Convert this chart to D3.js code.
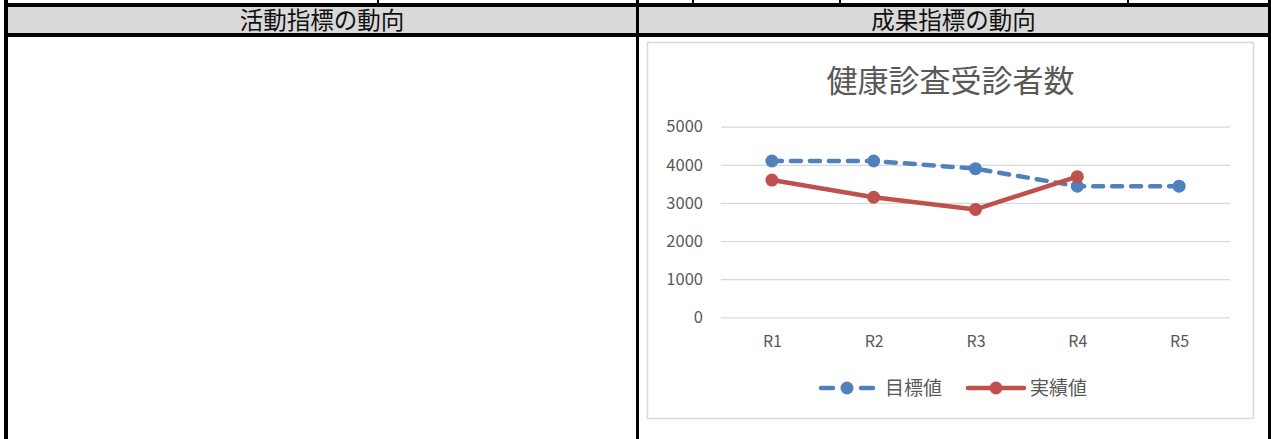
<!DOCTYPE html>
<html>
<head>
<meta charset="utf-8">
<title>健康診査受診者数</title>
<script src="https://d3js.org/d3.v7.min.js"></script>
<style>
  body { margin: 0; background: #fff; }
</style>
</head>
<body>
<svg width="1271" height="439" font-family="'Noto Sans CJK JP', 'Noto Sans', sans-serif"></svg>
<script>
var categories = ["R1", "R2", "R3", "R4", "R5"];
var targetValues = [4100, 4100, 3900, 3440, 3440];
var actualValues = [3600, 3150, 2830, 3690, null];
var yTicks = [0, 1000, 2000, 3000, 4000, 5000];
var seriesNames = ["目標値", "実績値"];
var seriesColors = ["#4f81bd", "#c0504d"];
var headers = ["活動指標の動向", "成果指標の動向"];
var chartTitle = "健康診査受診者数";
// column borders of the row above, only their feet show
var upperCols = [378, 693, 840, 1128];

var svg = d3.select("svg"),
    width = +svg.attr("width"),
    height = +svg.attr("height");

// ---- table frame ----
var colL = 8, colM = 636, colR = 1268;
svg.append("rect").attr("x", colL).attr("y", 7).attr("width", colR - colL).attr("height", 26).attr("fill", "#d9d9d9");
svg.append("rect").attr("x", 4).attr("y", 3).attr("width", width - 4).attr("height", 4).attr("fill", "#000");
svg.append("rect").attr("x", 4).attr("y", 33).attr("width", width - 4).attr("height", 4).attr("fill", "#000");
svg.append("rect").attr("x", 4).attr("y", 0).attr("width", 4).attr("height", height).attr("fill", "#000");
svg.append("rect").attr("x", colM).attr("y", 0).attr("width", 3).attr("height", height).attr("fill", "#000");
svg.append("rect").attr("x", colR).attr("y", 0).attr("width", 3).attr("height", height).attr("fill", "#000");
svg.selectAll(".ucol").data(upperCols).enter().append("rect")
    .attr("x", function(d) { return d - 1; }).attr("y", 0)
    .attr("width", 2).attr("height", 3).attr("fill", "#000");

svg.selectAll(".hdr").data(headers).enter().append("text")
    .attr("x", function(d, i) { return i === 0 ? (colL + colM) / 2 : (colM + 3 + colR) / 2; })
    .attr("y", 28.5)
    .attr("text-anchor", "middle")
    .attr("font-size", 23.5)
    .attr("fill", "#111")
    .text(function(d) { return d; });

// ---- chart ----
var frame = { x: 647.5, y: 42.5, w: 606, h: 376 };
svg.append("rect")
    .attr("x", frame.x).attr("y", frame.y)
    .attr("width", frame.w).attr("height", frame.h)
    .attr("fill", "#fff").attr("stroke", "#d9d9d9").attr("stroke-width", 1.5);

svg.append("text")
    .attr("x", frame.x + frame.w / 2)
    .attr("y", 92)
    .attr("text-anchor", "middle")
    .attr("font-size", 31)
    .attr("fill", "#595959")
    .text(chartTitle);

var plot = { left: 721, right: 1230, top: 126.7, bottom: 317.3 };

var x = d3.scalePoint().domain(categories).range([plot.left, plot.right]).padding(0.5);
var y = d3.scaleLinear().domain([0, 5000]).range([plot.bottom, plot.top]);

var g = svg.append("g");

g.append("g")
    .attr("transform", "translate(" + plot.left + ",0)")
    .call(d3.axisLeft(y).tickValues(yTicks).tickFormat(d3.format("d"))
        .tickSize(-(plot.right - plot.left)).tickPadding(18))
    .call(function(a) {
      a.select(".domain").remove();
      a.selectAll(".tick line").attr("stroke", "#d9d9d9").attr("stroke-width", 1.3);
      a.selectAll(".tick text").attr("fill", "#595959").attr("font-size", 16.5)
        .attr("font-family", "'Noto Sans CJK JP', sans-serif");
    });

g.append("g")
    .attr("transform", "translate(0," + plot.bottom + ")")
    .call(d3.axisBottom(x).tickSize(0).tickPadding(18))
    .call(function(a) {
      a.select(".domain").remove();
      a.selectAll(".tick text").attr("fill", "#595959").attr("font-size", 16)
        .attr("font-family", "'Noto Sans CJK JP', sans-serif");
    });

var series = [targetValues, actualValues];
var dashes = ["10,9", null];

var line = d3.line()
    .defined(function(d) { return d != null; })
    .x(function(d, i) { return x(categories[i]); })
    .y(function(d) { return y(d); });

series.forEach(function(vals, s) {
  g.append("path")
      .datum(vals)
      .attr("fill", "none")
      .attr("stroke", seriesColors[s])
      .attr("stroke-width", 4.5)
      .attr("stroke-linecap", "round")
      .attr("stroke-linejoin", "round")
      .attr("stroke-dasharray", dashes[s])
      .attr("d", line);
  g.selectAll(".m" + s)
      .data(vals.map(function(v, i) { return { v: v, c: categories[i] }; }).filter(function(d) { return d.v != null; }))
      .enter().append("circle")
      .attr("cx", function(d) { return x(d.c); })
      .attr("cy", function(d) { return y(d.v); })
      .attr("r", 6.5)
      .attr("fill", seriesColors[s]);
});

// ---- legend ----
var legendY = 388;
var legendStarts = [821, 968];
var legend = svg.selectAll(".lg").data(seriesNames).enter().append("g")
    .attr("transform", function(d, i) { return "translate(" + legendStarts[i] + "," + legendY + ")"; });

legend.append("line")
    .attr("x1", 0).attr("x2", function(d, i) { return i === 0 ? 52 : 56; })
    .attr("stroke", function(d, i) { return seriesColors[i]; })
    .attr("stroke-width", 4.5)
    .attr("stroke-linecap", "round")
    .attr("stroke-dasharray", function(d, i) { return i === 0 ? "12,28" : null; });

legend.append("circle")
    .attr("cx", function(d, i) { return i === 0 ? 26 : 28; })
    .attr("r", 6.5)
    .attr("fill", function(d, i) { return seriesColors[i]; });

legend.append("text")
    .attr("x", function(d, i) { return i === 0 ? 64 : 62; })
    .attr("dy", "0.36em")
    .attr("font-size", 19)
    .attr("fill", "#595959")
    .text(function(d) { return d; });
</script>
</body>
</html>
